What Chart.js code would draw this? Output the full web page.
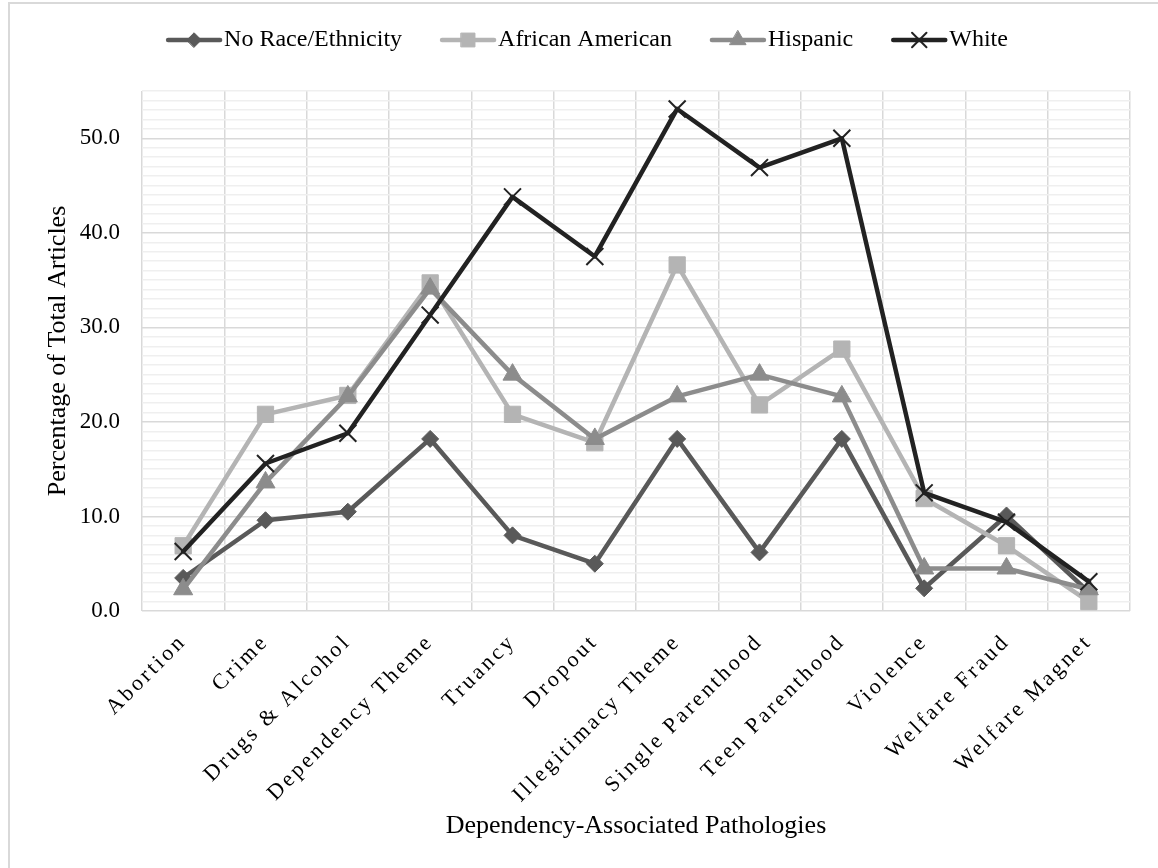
<!DOCTYPE html>
<html>
<head>
<meta charset="utf-8">
<title>Dependency-Associated Pathologies</title>
<script src="https://cdn.jsdelivr.net/npm/chart.js@4.4.1/dist/chart.umd.min.js"></script>
<style>
  html, body { margin: 0; padding: 0; background: #ffffff; }
  #wrap { width: 1158px; height: 868px; position: relative; }
</style>
</head>
<body>
<div id="wrap"><canvas id="chart" width="1158" height="868"></canvas></div>
<script>
// Categories along the x axis
const categories = [
  'Abortion', 'Crime', 'Drugs & Alcohol', 'Dependency Theme', 'Truancy', 'Dropout',
  'Illegitimacy Theme', 'Single Parenthood', 'Teen Parenthood', 'Violence',
  'Welfare Fraud', 'Welfare Magnet'
];

// Percentage of total articles, one array per group
const noRaceEthnicity = [3.5, 9.6, 10.5, 18.2, 8.0, 5.0, 18.2, 6.2, 18.2, 2.4, 10.1, 2.0];
const africanAmerican = [6.9, 20.8, 22.8, 34.7, 20.8, 17.8, 36.6, 21.8, 27.7, 11.9, 6.9, 1.0];
const hispanic        = [2.3, 13.6, 22.7, 34.1, 25.0, 18.2, 22.7, 25.0, 22.7, 4.5, 4.5, 2.3];
const white           = [6.3, 15.6, 18.8, 31.3, 43.8, 37.5, 53.1, 46.9, 50.0, 12.5, 9.4, 3.1];

const seriesNames = ['No Race/Ethnicity', 'African American', 'Hispanic', 'White'];

// Value axis
const yMin = 0;
const yMax = 55;
const yStep = 1;
const yLabelEvery = 10;

const SERIF = '"Liberation Serif", "Times New Roman", serif';
const LABEL_SPACING = '3px';

function series(label, data, color, style, radius, order, pointBorderWidth) {
  return {
    label, data, order,
    borderColor: color,
    backgroundColor: color,
    borderWidth: 4.5,
    borderJoinStyle: 'round',
    borderCapStyle: 'round',
    pointStyle: style,
    pointRadius: radius,
    pointHoverRadius: radius,
    pointBackgroundColor: color,
    pointBorderColor: color,
    pointBorderWidth: pointBorderWidth,
    tension: 0
  };
}

// Outer frame and a line-plus-marker legend
const frameAndLegend = {
  id: 'frameAndLegend',
  beforeDraw(chart) {
    const ctx = chart.ctx;
    ctx.save();
    ctx.fillStyle = '#ffffff';
    ctx.fillRect(0, 0, chart.width, chart.height);
    ctx.strokeStyle = '#d9d9d9';
    ctx.lineWidth = 2;
    ctx.strokeRect(9, 3, chart.width + 20, chart.height + 20);
    ctx.restore();
  },
  afterDraw(chart) {
    const ctx = chart.ctx;
    const lineLen = 56, textGap = 2, itemGap = 38, centerX = 587, cy = 40;
    ctx.save();
    ctx.font = '24px ' + SERIF;
    ctx.textBaseline = 'middle';
    ctx.textAlign = 'left';
    const items = chart.data.datasets.map(ds => ({ ds, w: lineLen + textGap + ctx.measureText(ds.label).width }));
    const total = items.reduce((s, it) => s + it.w, 0) + itemGap * (items.length - 1);
    let x = centerX - total / 2;
    items.forEach(({ ds, w }) => {
      ctx.strokeStyle = ds.borderColor;
      ctx.lineWidth = ds.borderWidth;
      ctx.lineCap = 'round';
      ctx.beginPath();
      ctx.moveTo(x + 2, cy);
      ctx.lineTo(x + lineLen - 2, cy);
      ctx.stroke();
      ctx.fillStyle = ds.pointBackgroundColor;
      ctx.strokeStyle = ds.pointBorderColor;
      ctx.lineWidth = ds.pointBorderWidth;
      Chart.helpers.drawPoint(ctx, {
        pointStyle: ds.pointStyle, radius: ds.pointRadius * 0.85,
        borderWidth: ds.pointBorderWidth, rotation: 0
      }, x + lineLen / 2, cy);
      ctx.fillStyle = '#000000';
      ctx.fillText(ds.label, x + lineLen + textGap, cy);
      x += w + itemGap;
    });
    ctx.restore();
  }
};

// Widen the letter spacing of the category labels when they are drawn
const spacedCategoryLabels = {
  id: 'spacedCategoryLabels',
  afterLayout(chart) {
    const s = chart.scales.x;
    if (s && !s._spacedLabels) {
      const base = s.drawLabels.bind(s);
      s.drawLabels = function (area) {
        const ctx = this.ctx;
        ctx.save();
        ctx.letterSpacing = LABEL_SPACING;
        base(area);
        ctx.restore();
      };
      s._spacedLabels = true;
    }
  }
};

new Chart(document.getElementById('chart'), {
  type: 'line',
  data: {
    labels: categories,
    datasets: [
      series(seriesNames[0], noRaceEthnicity, '#595959', 'rectRot', 8.5, 4, 1),
      series(seriesNames[1], africanAmerican, '#b4b4b4', 'rect', 11.5, 3, 1),
      series(seriesNames[2], hispanic, '#8c8c8c', 'triangle', 11, 2, 1),
      series(seriesNames[3], white, '#222222', 'crossRot', 12, 1, 2)
    ]
  },
  options: {
    responsive: false,
    animation: false,
    events: [],
    layout: { padding: { top: 91, left: 0, right: 28, bottom: 0 } },
    plugins: {
      legend: { display: false },
      tooltip: { enabled: false }
    },
    scales: {
      x: {
        type: 'category',
        offset: true,
        grid: { offset: true, color: '#d9d9d9', lineWidth: 1.5, drawTicks: false },
        border: { display: false },
        ticks: {
          autoSkip: false,
          minRotation: 45,
          maxRotation: 45,
          padding: 18,
          color: '#000000',
          font: { family: SERIF, size: 22 }
        },
        title: {
          display: true,
          text: 'Dependency-Associated Pathologies',
          color: '#000000',
          font: { family: SERIF, size: 26 },
          padding: { top: 0, bottom: 26 }
        },
        beforeFit(s) { s.ctx.letterSpacing = LABEL_SPACING; },
        afterFit(s) { s.ctx.letterSpacing = '0px'; s.height = 257; }
      },
      y: {
        min: yMin,
        max: yMax,
        grid: {
          drawTicks: false,
          lineWidth: 1.5,
          color: c => (c.tick && c.tick.value % yLabelEvery === 0) ? '#d9d9d9' : '#efefef'
        },
        border: { display: false },
        ticks: {
          stepSize: yStep,
          autoSkip: false,
          padding: 22,
          color: '#000000',
          font: { family: SERIF, size: 23 },
          callback: v => (v % yLabelEvery === 0) ? v.toFixed(1) : ''
        },
        title: {
          display: true,
          text: 'Percentage of Total Articles',
          color: '#000000',
          font: { family: SERIF, size: 26 },
          padding: { top: 43, bottom: 0 }
        },
        afterFit(s) { s.width = 142; }
      }
    }
  },
  plugins: [frameAndLegend, spacedCategoryLabels]
});
</script>
</body>
</html>
